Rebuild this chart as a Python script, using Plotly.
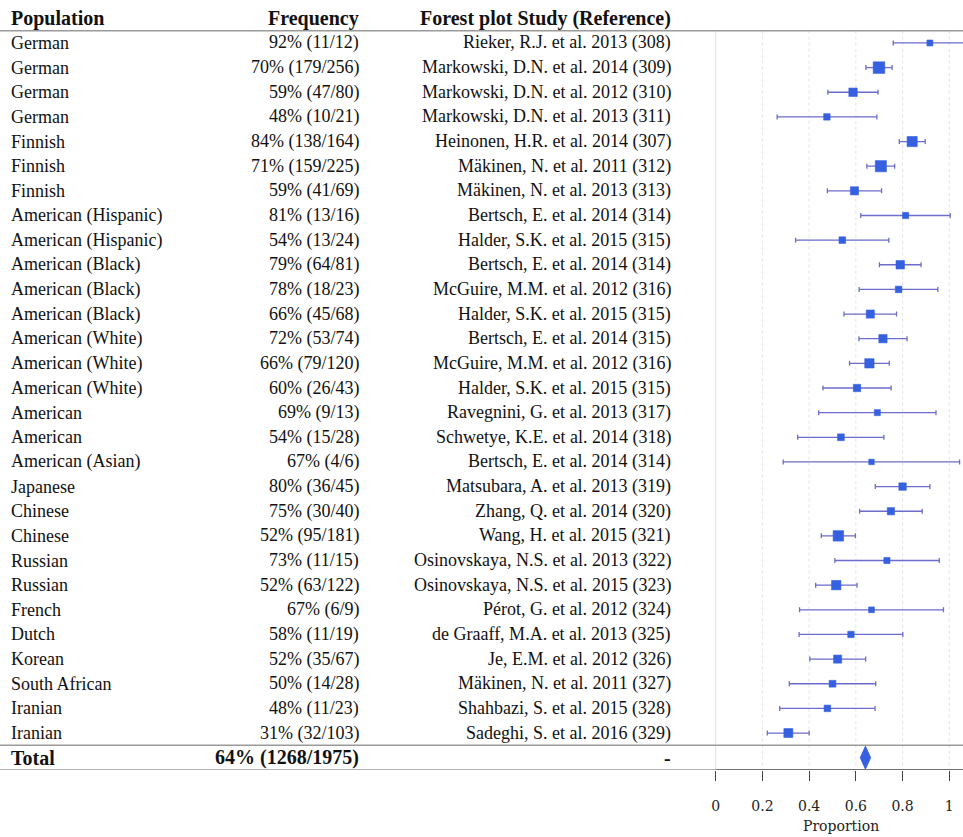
import plotly.graph_objects as go

population = ["German", "German", "German", "German", "Finnish", "Finnish", "Finnish",
              "American (Hispanic)", "American (Hispanic)", "American (Black)", "American (Black)",
              "American (Black)", "American (White)", "American (White)", "American (White)",
              "American", "American", "American (Asian)", "Japanese", "Chinese", "Chinese",
              "Russian", "Russian", "French", "Dutch", "Korean", "South African", "Iranian", "Iranian"]
frequency = ["92% (11/12)", "70% (179/256)", "59% (47/80)", "48% (10/21)", "84% (138/164)",
             "71% (159/225)", "59% (41/69)", "81% (13/16)", "54% (13/24)", "79% (64/81)",
             "78% (18/23)", "66% (45/68)", "72% (53/74)", "66% (79/120)", "60% (26/43)",
             "69% (9/13)", "54% (15/28)", "67% (4/6)", "80% (36/45)", "75% (30/40)",
             "52% (95/181)", "73% (11/15)", "52% (63/122)", "67% (6/9)", "58% (11/19)",
             "52% (35/67)", "50% (14/28)", "48% (11/23)", "31% (32/103)"]
study = ["Rieker, R.J. et al. 2013 (308)", "Markowski, D.N. et al. 2014 (309)",
         "Markowski, D.N. et al. 2012 (310)", "Markowski, D.N. et al. 2013 (311)",
         "Heinonen, H.R. et al. 2014 (307)", "Mäkinen, N. et al. 2011 (312)",
         "Mäkinen, N. et al. 2013 (313)", "Bertsch, E. et al. 2014 (314)",
         "Halder, S.K. et al. 2015 (315)", "Bertsch, E. et al. 2014 (314)",
         "McGuire, M.M. et al. 2012 (316)", "Halder, S.K. et al. 2015 (315)",
         "Bertsch, E. et al. 2014 (315)", "McGuire, M.M. et al. 2012 (316)",
         "Halder, S.K. et al. 2015 (315)", "Ravegnini, G. et al. 2013 (317)",
         "Schwetye, K.E. et al. 2014 (318)", "Bertsch, E. et al. 2014 (314)",
         "Matsubara, A. et al. 2013 (319)", "Zhang, Q. et al. 2014 (320)",
         "Wang, H. et al. 2015 (321)", "Osinovskaya, N.S. et al. 2013 (322)",
         "Osinovskaya, N.S. et al. 2015 (323)", "Pérot, G. et al. 2012 (324)",
         "de Graaff, M.A. et al. 2013 (325)", "Je, E.M. et al. 2012 (326)",
         "Mäkinen, N. et al. 2011 (327)", "Shahbazi, S. et al. 2015 (328)",
         "Sadeghi, S. et al. 2016 (329)"]
proportion = [0.917, 0.699, 0.588, 0.476, 0.841, 0.707, 0.594, 0.813, 0.542, 0.790,
              0.783, 0.662, 0.716, 0.658, 0.605, 0.692, 0.536, 0.667, 0.800, 0.750,
              0.525, 0.733, 0.516, 0.667, 0.579, 0.522, 0.500, 0.478, 0.311]
ci_low = [0.760, 0.643, 0.480, 0.263, 0.786, 0.647, 0.478, 0.621, 0.342, 0.701,
          0.614, 0.549, 0.613, 0.573, 0.459, 0.441, 0.351, 0.289, 0.683, 0.616,
          0.452, 0.510, 0.428, 0.359, 0.357, 0.403, 0.315, 0.274, 0.221]
ci_high = [1.073, 0.755, 0.695, 0.690, 0.897, 0.766, 0.710, 1.004, 0.741, 0.879,
           0.951, 0.774, 0.819, 0.743, 0.751, 0.943, 0.720, 1.044, 0.917, 0.884,
           0.598, 0.957, 0.605, 0.975, 0.801, 0.642, 0.685, 0.682, 0.400]
sample_n = [12, 256, 80, 21, 164, 225, 69, 16, 24, 81, 23, 68, 74, 120, 43, 13, 28, 6,
            45, 40, 181, 15, 122, 9, 19, 67, 28, 23, 103]

headers = ["Population", "Frequency", "Forest plot Study (Reference)"]
total_label = "Total"
total_freq = "64% (1268/1975)"
total_study = "-"
total_prop = 0.641
total_low = 0.619
total_high = 0.663

tick_vals = [0, 0.2, 0.4, 0.6, 0.8, 1.0]
tick_text = ["0", "0.2", "0.4", "0.6", "0.8", "1"]
axis_title = "Proportion"

W, H = 963, 837
n_rows = len(population)
row_y = list(range(1, n_rows + 1))
total_y = n_rows + 1

X0_PX = 700.0
ZERO_PX = 715.7
UNIT_PX = 233.6
x_min = -(ZERO_PX - X0_PX) / UNIT_PX
x_max = (W - ZERO_PX) / UNIT_PX

MARK = "#3560E0"
ERR = "#6C6CCC"
TXT_FONT = "Liberation Serif"

fig = go.Figure()

sizes = [4.4 + 0.45 * (v ** 0.5) for v in sample_n]
fig.add_trace(go.Scatter(
    x=proportion, y=row_y, mode="markers",
    marker=dict(symbol="square", size=sizes, color=MARK, opacity=1,
                line=dict(width=0.6, color=MARK)),
    error_x=dict(type="data", symmetric=False,
                 array=[h - p for h, p in zip(ci_high, proportion)],
                 arrayminus=[p - l for p, l in zip(proportion, ci_low)],
                 color=ERR, thickness=1.3, width=2.5),
    hoverinfo="skip", showlegend=False,
))

# total diamond
fig.add_trace(go.Scatter(
    x=[total_low, total_prop, total_high, total_prop, total_low],
    y=[total_y, total_y - 0.46, total_y, total_y + 0.46, total_y],
    mode="lines", fill="toself", fillcolor=MARK, line=dict(color=MARK, width=1),
    hoverinfo="skip", showlegend=False,
))

shapes = []
for v in tick_vals:
    shapes.append(dict(type="line", xref="x", yref="y", x0=v, x1=v, y0=0.5, y1=total_y + 0.5,
                       line=dict(color="#E2E2E2", width=1, dash="solid" if v == 0 else "dot"),
                       layer="below"))
shapes.append(dict(type="line", xref="paper", yref="y", x0=0, x1=1, y0=0.5, y1=0.5,
                   line=dict(color="#9A9A9A", width=1.5)))
shapes.append(dict(type="line", xref="paper", yref="y", x0=0, x1=1, y0=n_rows + 0.5, y1=n_rows + 0.5,
                   line=dict(color="#9A9A9A", width=1.5)))
shapes.append(dict(type="line", xref="paper", yref="y", x0=0, x1=ZERO_PX / W, y0=total_y + 0.5,
                   y1=total_y + 0.5, line=dict(color="#9A9A9A", width=1.5)))
shapes.append(dict(type="line", xref="x", yref="y", x0=0, x1=x_max, y0=total_y + 0.5,
                   y1=total_y + 0.5, line=dict(color="#444444", width=1.5)))

COL_POP = 8.5 / W
COL_FREQ = 361.0 / W
COL_STUDY = 673.0 / W

ann = []
def add_text(txt, x, y, anchor, bold=False):
    ann.append(dict(text=("<b>%s</b>" % txt) if bold else txt, x=x, y=y, xref="paper", yref="y",
                    xanchor=anchor, yanchor="middle", showarrow=False,
                    font=dict(family=TXT_FONT, size=20 if bold else 18, color="#111111")))

add_text(headers[0], COL_POP, 0, "left", True)
add_text(headers[1], COL_FREQ, 0, "right", True)
add_text(headers[2], COL_STUDY, 0, "right", True)
for i in range(n_rows):
    add_text(population[i], COL_POP, row_y[i], "left")
    add_text(frequency[i], COL_FREQ, row_y[i], "right")
    add_text(study[i], COL_STUDY, row_y[i], "right")
add_text(total_label, COL_POP, total_y, "left", True)
add_text(total_freq, COL_FREQ, total_y, "right", True)
add_text(total_study, COL_STUDY, total_y, "right", True)

plot_top, plot_bottom = 6, 67
ann.append(dict(text=axis_title, x=0.535, xref="x", yref="paper", showarrow=False,
                y=(H - plot_bottom - 826) / (H - plot_top - plot_bottom),
                font=dict(family="DejaVu Serif", size=14, color="#222222"),
                xanchor="center", yanchor="middle"))

fig.update_layout(
    width=W, height=H,
    margin=dict(l=0, r=0, t=plot_top, b=plot_bottom, pad=0),
    paper_bgcolor="white", plot_bgcolor="white",
    xaxis=dict(domain=[X0_PX / W, 1], range=[x_min, x_max], showgrid=False, zeroline=False,
               showline=False, tickvals=tick_vals, ticktext=tick_text, ticks="outside",
               ticklen=10, tickwidth=1, tickcolor="#444444", ticklabelstandoff=13,
               tickfont=dict(family="DejaVu Serif", size=14, color="#222222")),
    yaxis=dict(range=[total_y + 0.5, -0.5], showgrid=False, zeroline=False, showline=False,
               showticklabels=False, ticks=""),
    shapes=shapes, annotations=ann,
)

fig.write_html("out.html", config={"displayModeBar": False, "staticPlot": True},
               post_script="document.body.style.margin='0';document.body.style.overflow='hidden';"
                           "document.documentElement.style.overflow='hidden';")
